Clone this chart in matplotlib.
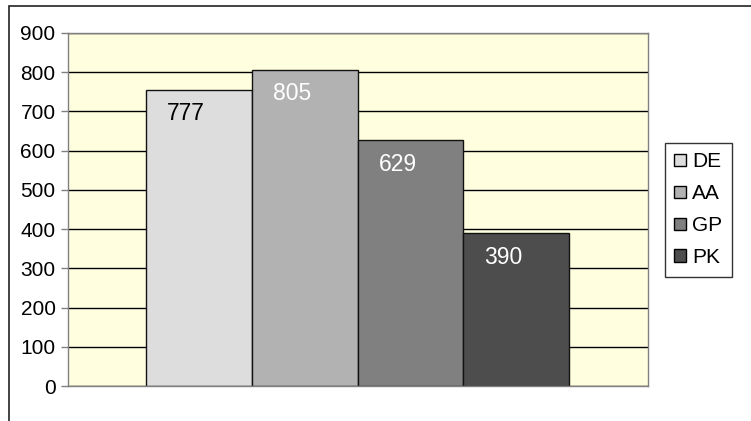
import matplotlib.pyplot as plt
from matplotlib.patches import Rectangle, Patch

# data
categories = ['DE', 'AA', 'GP', 'PK']
bar_heights = [755, 806, 627, 390]
value_labels = ['777', '805', '629', '390']
colors = ['#dddddd', '#b2b2b2', '#808080', '#4d4d4d']
label_colors = ['black', 'white', 'white', 'white']
yticks = [0, 100, 200, 300, 400, 500, 600, 700, 800, 900]

plt.rcParams['font.family'] = ['Liberation Sans', 'DejaVu Sans']

fig = plt.figure(figsize=(7.51, 4.21), dpi=100)
ax = fig.add_axes([68 / 751, 35 / 421, 580 / 751, 353 / 421])

# outer chart frame
fig.patches.append(Rectangle((9 / 751, -0.2), 1.2, 1.2 - 6 / 421,
                             transform=fig.transFigure, fill=False,
                             edgecolor='#222222', linewidth=1.2))

ax.set_facecolor('#ffffe0')
ax.set_ylim(0, 900)
ax.set_xlim(-1.238, 4.247)
ax.set_yticks(yticks)
ax.set_xticks([])
ax.yaxis.grid(True, color='black', linewidth=1)
ax.set_axisbelow(True)
for s in ax.spines.values():
    s.set_color('#808080')
    s.set_linewidth(1)
ax.tick_params(axis='y', direction='out', length=5, width=1, color='#808080',
               labelsize=15, pad=4)

xs = range(len(categories))
ax.bar(xs, bar_heights, width=1.0, color=colors, edgecolor='#111111', linewidth=1)

for i, (h, lab) in enumerate(zip(bar_heights, value_labels)):
    ax.annotate(lab, (i - 0.12, h), xytext=(0, -24), textcoords='offset pixels',
                ha='center', va='center', fontsize=16.5, color=label_colors[i])

handles = [Patch(facecolor=c, edgecolor='black', linewidth=1) for c in colors]
leg = fig.legend(handles, categories, loc='upper left',
                 bbox_to_anchor=(665 / 751, 1 - 143 / 421),
                 bbox_transform=fig.transFigure, borderaxespad=0,
                 fontsize=15, frameon=True, fancybox=False,
                 handlelength=0.55, handleheight=0.55, handletextpad=0.3,
                 labelspacing=0.62, borderpad=0.45)
leg.get_frame().set_edgecolor('black')
leg.get_frame().set_linewidth(1)

fig.savefig('out.png', dpi=100)
